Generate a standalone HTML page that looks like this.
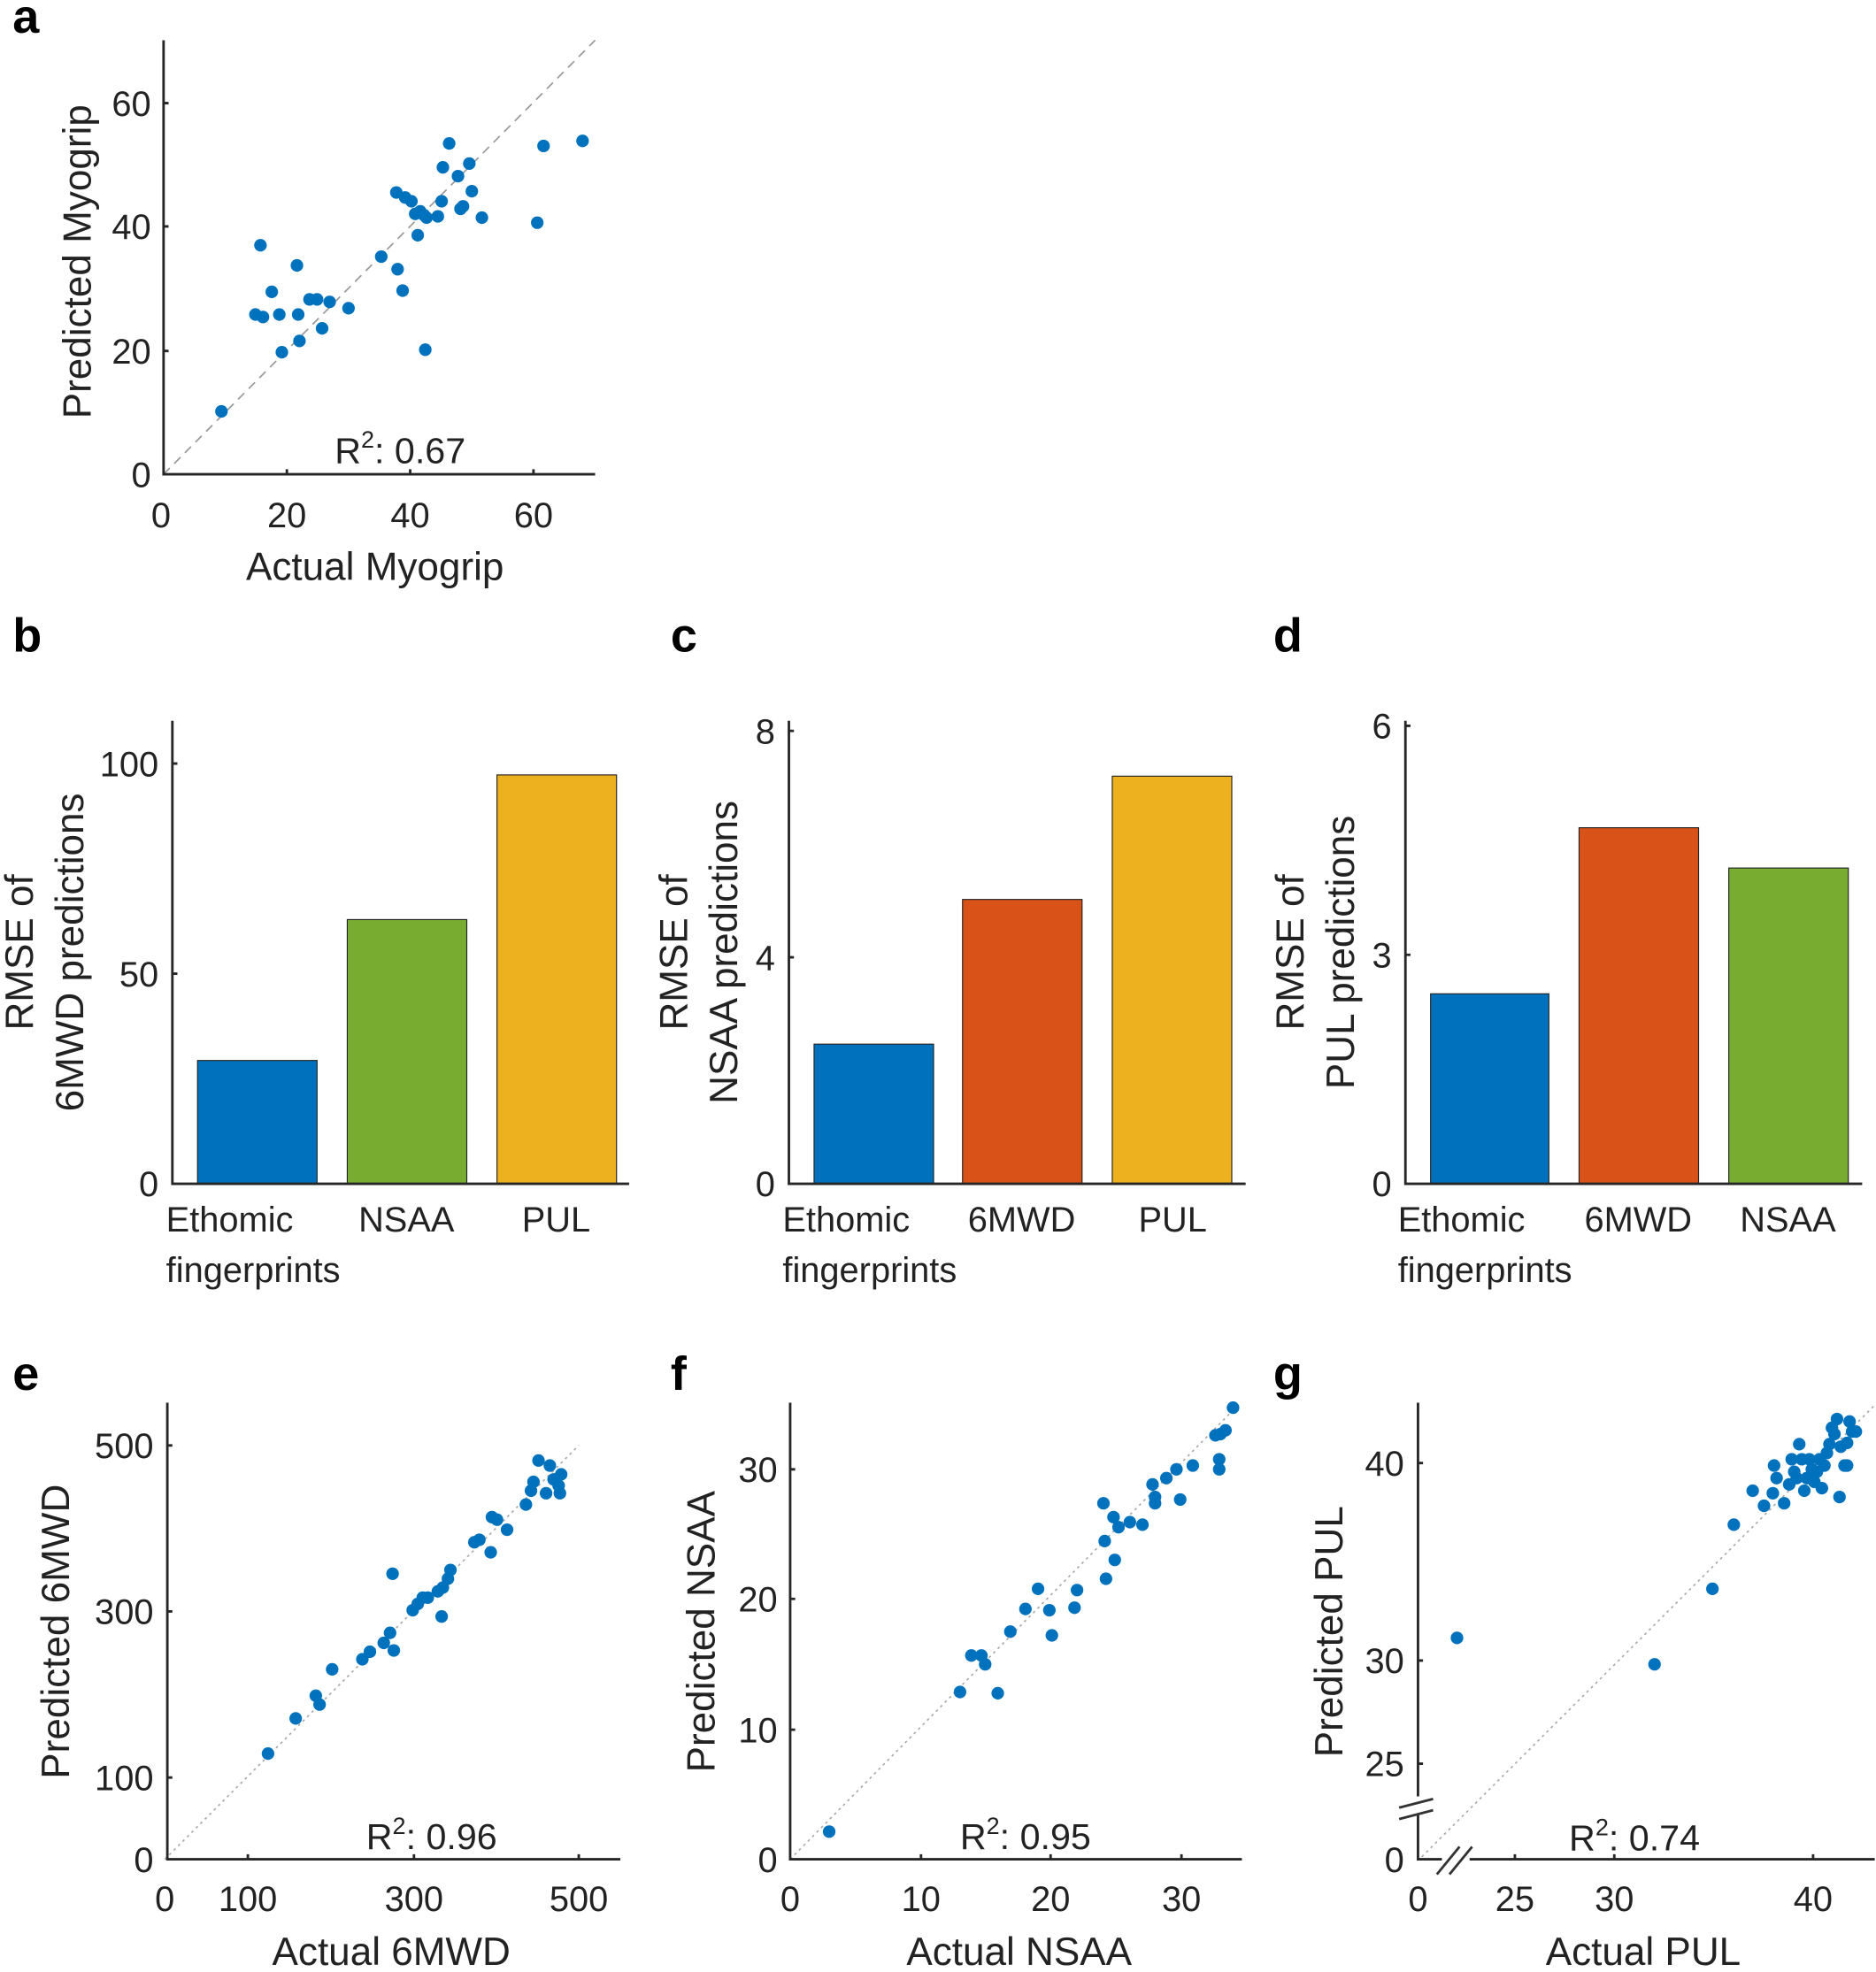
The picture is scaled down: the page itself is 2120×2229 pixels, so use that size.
<!DOCTYPE html>
<html><head><meta charset="utf-8"><style>
html,body{margin:0;padding:0;background:#fff}
svg{display:block}
text{font-family:"Liberation Sans",Arial,sans-serif;fill:#222}
.t{font-size:28px}
.l{font-size:31px}
.r{font-size:29px}
.p{font-size:38px;font-weight:bold;fill:#000}
.ax{stroke:#262626;stroke-width:2;fill:none}
.d{fill:#0072BD}
</style></head><body>
<svg width="2120" height="2229" viewBox="0 0 1491 1567.6" preserveAspectRatio="none">
<text class="p" x="10" y="26">a</text>
<text class="p" x="10" y="518">b</text>
<text class="p" x="533" y="518">c</text>
<text class="p" x="1012" y="518">d</text>
<text class="p" x="10" y="1105">e</text>
<text class="p" x="533" y="1105">f</text>
<text class="p" x="1012" y="1105">g</text>

<!-- Panel a -->
<line x1="130" y1="377" x2="473" y2="32" stroke="#999" stroke-width="1.2" stroke-dasharray="7,5"/>
<path class="ax" d="M130,32 V377 H473"/>
<path class="ax" d="M130,82 h4 M130,180 h4 M130,279 h4 M228,377 v-4 M326,377 v-4 M424,377 v-4"/>
<g class="t" text-anchor="end">
<text x="120" y="92">60</text><text x="120" y="190">40</text><text x="120" y="289">20</text><text x="120" y="387">0</text></g>
<g class="t" text-anchor="middle">
<text x="128" y="419">0</text><text x="228" y="419">20</text><text x="326" y="419">40</text><text x="424" y="419">60</text></g>
<text class="l" x="298" y="461" text-anchor="middle">Actual Myogrip</text>
<text class="l" transform="translate(72,208) rotate(-90)" text-anchor="middle">Predicted Myogrip</text>
<text class="r" x="266" y="368">R<tspan dy="-12" font-size="19">2</tspan><tspan dy="12">: 0.67</tspan></text>
<g class="d">
<circle cx="176" cy="327" r="5"/><circle cx="207" cy="195" r="5"/><circle cx="203" cy="250" r="5"/><circle cx="209" cy="252" r="5"/><circle cx="216" cy="232" r="5"/><circle cx="222" cy="250" r="5"/><circle cx="224" cy="280" r="5"/><circle cx="236" cy="211" r="5"/><circle cx="238" cy="271" r="5"/><circle cx="237" cy="250" r="5"/><circle cx="246" cy="238" r="5"/><circle cx="252" cy="238" r="5"/><circle cx="256" cy="261" r="5"/><circle cx="262" cy="240" r="5"/><circle cx="277" cy="245" r="5"/><circle cx="303" cy="204" r="5"/><circle cx="315" cy="153" r="5"/><circle cx="316" cy="214" r="5"/><circle cx="320" cy="231" r="5"/><circle cx="322" cy="157" r="5"/><circle cx="327" cy="160" r="5"/><circle cx="332" cy="187" r="5"/><circle cx="334" cy="168" r="5"/><circle cx="337" cy="171" r="5"/><circle cx="338" cy="278" r="5"/><circle cx="339" cy="173" r="5"/><circle cx="348" cy="172" r="5"/><circle cx="351" cy="160" r="5"/><circle cx="357" cy="114" r="5"/><circle cx="352" cy="133" r="5"/><circle cx="364" cy="140" r="5"/><circle cx="366" cy="166" r="5"/><circle cx="373" cy="130" r="5"/><circle cx="375" cy="152" r="5"/><circle cx="368" cy="164" r="5"/><circle cx="383" cy="173" r="5"/><circle cx="427" cy="177" r="5"/><circle cx="432" cy="116" r="5"/><circle cx="463" cy="112" r="5"/><circle cx="330" cy="170" r="5"/>
</g>

<!-- Panel b -->
<rect x="157" y="843" width="95" height="98" fill="#0072BD" stroke="#222" stroke-width="0.8"/>
<rect x="276" y="731" width="95" height="210" fill="#77AC30" stroke="#222" stroke-width="0.8"/>
<rect x="395" y="616" width="95" height="325" fill="#EDB120" stroke="#222" stroke-width="0.8"/>
<path class="ax" d="M137,573 V941 H500"/>
<path class="ax" d="M137,607 h4 M137,774 h4"/>
<g class="t" text-anchor="end"><text x="126" y="617">100</text><text x="126" y="784">50</text><text x="126" y="951">0</text></g>
<g class="t"><text x="132" y="979">Ethomic</text><text x="132" y="1019">fingerprints</text>
<text x="323" y="979" text-anchor="middle">NSAA</text><text x="442" y="979" text-anchor="middle">PUL</text></g>
<text class="l" transform="translate(26,757) rotate(-90)" text-anchor="middle">RMSE of</text>
<text class="l" transform="translate(66,757) rotate(-90)" text-anchor="middle">6MWD predictions</text>

<!-- Panel c -->
<rect x="647" y="830" width="95" height="111" fill="#0072BD" stroke="#222" stroke-width="0.8"/>
<rect x="765" y="715" width="95" height="226" fill="#D95319" stroke="#222" stroke-width="0.8"/>
<rect x="884" y="617" width="95" height="324" fill="#EDB120" stroke="#222" stroke-width="0.8"/>
<path class="ax" d="M627,573 V941 H990"/>
<path class="ax" d="M627,581 h4 M627,761 h4"/>
<g class="t" text-anchor="end"><text x="616" y="591">8</text><text x="616" y="771">4</text><text x="616" y="951">0</text></g>
<g class="t"><text x="622" y="979">Ethomic</text><text x="622" y="1019">fingerprints</text>
<text x="812" y="979" text-anchor="middle">6MWD</text><text x="932" y="979" text-anchor="middle">PUL</text></g>
<text class="l" transform="translate(546,757) rotate(-90)" text-anchor="middle">RMSE of</text>
<text class="l" transform="translate(586,757) rotate(-90)" text-anchor="middle">NSAA predictions</text>

<!-- Panel d -->
<rect x="1137" y="790" width="94" height="151" fill="#0072BD" stroke="#222" stroke-width="0.8"/>
<rect x="1255" y="658" width="95" height="283" fill="#D95319" stroke="#222" stroke-width="0.8"/>
<rect x="1374" y="690" width="95" height="251" fill="#77AC30" stroke="#222" stroke-width="0.8"/>
<path class="ax" d="M1117,573 V941 H1480"/>
<path class="ax" d="M1117,577 h4 M1117,759 h4"/>
<g class="t" text-anchor="end"><text x="1106" y="587">6</text><text x="1106" y="769">3</text><text x="1106" y="951">0</text></g>
<g class="t"><text x="1111" y="979">Ethomic</text><text x="1111" y="1019">fingerprints</text>
<text x="1302" y="979" text-anchor="middle">6MWD</text><text x="1421" y="979" text-anchor="middle">NSAA</text></g>
<text class="l" transform="translate(1036,757) rotate(-90)" text-anchor="middle">RMSE of</text>
<text class="l" transform="translate(1076,757) rotate(-90)" text-anchor="middle">PUL predictions</text>

<!-- Panel e -->
<line x1="131" y1="1478" x2="460" y2="1149" stroke="#aaa" stroke-width="1.2" stroke-dasharray="2,3"/>
<path class="ax" d="M133,1115 V1478 H493"/>
<path class="ax" d="M133,1149 h4 M133,1281 h4 M133,1413 h4 M197,1478 v-4 M329,1478 v-4 M460,1478 v-4"/>
<g class="t" text-anchor="end"><text x="122" y="1159">500</text><text x="122" y="1291">300</text><text x="122" y="1423">100</text><text x="122" y="1488">0</text></g>
<g class="t" text-anchor="middle"><text x="131" y="1519">0</text><text x="197" y="1519">100</text><text x="329" y="1519">300</text><text x="460" y="1519">500</text></g>
<text class="l" x="311" y="1562" text-anchor="middle">Actual 6MWD</text>
<text class="l" transform="translate(55,1297) rotate(-90)" text-anchor="middle">Predicted 6MWD</text>
<text class="r" x="291" y="1470">R<tspan dy="-12" font-size="19">2</tspan><tspan dy="12">: 0.96</tspan></text>
<g class="d">
<circle cx="213" cy="1394" r="5"/><circle cx="235" cy="1366" r="5"/><circle cx="251" cy="1348" r="5"/><circle cx="254" cy="1355" r="5"/><circle cx="264" cy="1327" r="5"/><circle cx="288" cy="1319" r="5"/><circle cx="294" cy="1313" r="5"/><circle cx="305" cy="1306" r="5"/><circle cx="310" cy="1298" r="5"/><circle cx="313" cy="1312" r="5"/><circle cx="312" cy="1251" r="5"/><circle cx="328" cy="1280" r="5"/><circle cx="332" cy="1275" r="5"/><circle cx="336" cy="1270" r="5"/><circle cx="340" cy="1270" r="5"/><circle cx="348" cy="1265" r="5"/><circle cx="351" cy="1285" r="5"/><circle cx="352" cy="1262" r="5"/><circle cx="356" cy="1255" r="5"/><circle cx="358" cy="1248" r="5"/><circle cx="377" cy="1226" r="5"/><circle cx="381" cy="1224" r="5"/><circle cx="390" cy="1234" r="5"/><circle cx="391" cy="1206" r="5"/><circle cx="395" cy="1208" r="5"/><circle cx="403" cy="1216" r="5"/><circle cx="418" cy="1196" r="5"/><circle cx="422" cy="1185" r="5"/><circle cx="424" cy="1178" r="5"/><circle cx="428" cy="1161" r="5"/><circle cx="437" cy="1165" r="5"/><circle cx="434" cy="1187" r="5"/><circle cx="440" cy="1176" r="5"/><circle cx="444" cy="1181" r="5"/><circle cx="446" cy="1172" r="5"/><circle cx="445" cy="1187" r="5"/>
</g>

<!-- Panel f -->
<line x1="628" y1="1478" x2="985" y2="1116" stroke="#aaa" stroke-width="1.2" stroke-dasharray="2,3"/>
<path class="ax" d="M628,1115 V1478 H987"/>
<path class="ax" d="M628,1168 h4 M628,1271 h4 M628,1375 h4 M732,1478 v-4 M835,1478 v-4 M939,1478 v-4"/>
<g class="t" text-anchor="end"><text x="618" y="1178">30</text><text x="618" y="1281">20</text><text x="618" y="1385">10</text><text x="618" y="1488">0</text></g>
<g class="t" text-anchor="middle"><text x="628" y="1519">0</text><text x="732" y="1519">10</text><text x="835" y="1519">20</text><text x="939" y="1519">30</text></g>
<text class="l" x="810" y="1562" text-anchor="middle">Actual NSAA</text>
<text class="l" transform="translate(568,1297) rotate(-90)" text-anchor="middle">Predicted NSAA</text>
<text class="r" x="763" y="1470">R<tspan dy="-12" font-size="19">2</tspan><tspan dy="12">: 0.95</tspan></text>
<g class="d">
<circle cx="659" cy="1456" r="5"/><circle cx="763" cy="1345" r="5"/><circle cx="793" cy="1346" r="5"/><circle cx="772" cy="1316" r="5"/><circle cx="780" cy="1316" r="5"/><circle cx="783" cy="1323" r="5"/><circle cx="803" cy="1297" r="5"/><circle cx="815" cy="1279" r="5"/><circle cx="825" cy="1263" r="5"/><circle cx="834" cy="1280" r="5"/><circle cx="836" cy="1300" r="5"/><circle cx="854" cy="1278" r="5"/><circle cx="856" cy="1264" r="5"/><circle cx="877" cy="1195" r="5"/><circle cx="878" cy="1225" r="5"/><circle cx="879" cy="1255" r="5"/><circle cx="885" cy="1206" r="5"/><circle cx="886" cy="1240" r="5"/><circle cx="889" cy="1214" r="5"/><circle cx="898" cy="1210" r="5"/><circle cx="908" cy="1212" r="5"/><circle cx="916" cy="1180" r="5"/><circle cx="918" cy="1190" r="5"/><circle cx="918" cy="1195" r="5"/><circle cx="927" cy="1175" r="5"/><circle cx="935" cy="1168" r="5"/><circle cx="938" cy="1192" r="5"/><circle cx="948" cy="1165" r="5"/><circle cx="966" cy="1141" r="5"/><circle cx="970" cy="1140" r="5"/><circle cx="969" cy="1160" r="5"/><circle cx="969" cy="1168" r="5"/><circle cx="974" cy="1137" r="5"/><circle cx="980" cy="1119" r="5"/>
</g>

<!-- Panel g -->
<line x1="1130" y1="1476" x2="1490" y2="1117" stroke="#aaa" stroke-width="1.2" stroke-dasharray="2,3"/>
<path class="ax" d="M1127,1115 V1478 H1490"/>
<path class="ax" d="M1127,1163 h4 M1127,1320 h4 M1127,1402 h4 M1204,1478 v-4 M1283,1478 v-4 M1441,1478 v-4"/>
<rect x="1110" y="1428" width="30" height="14" fill="#fff"/>
<path d="M1112,1437 L1139,1430 M1112,1446 L1139,1439" stroke="#333" stroke-width="2"/>
<rect x="1146" y="1470" width="22" height="20" fill="#fff"/>
<path d="M1142,1490 L1160,1468 M1152,1490 L1170,1468" stroke="#333" stroke-width="2"/>
<g class="t" text-anchor="end"><text x="1116" y="1173">40</text><text x="1116" y="1330">30</text><text x="1116" y="1412">25</text><text x="1116" y="1488">0</text></g>
<g class="t" text-anchor="middle"><text x="1127" y="1519">0</text><text x="1204" y="1519">25</text><text x="1283" y="1519">30</text><text x="1441" y="1519">40</text></g>
<text class="l" x="1306" y="1562" text-anchor="middle">Actual PUL</text>
<text class="l" transform="translate(1067,1297) rotate(-90)" text-anchor="middle">Predicted PUL</text>
<text class="r" x="1247" y="1471">R<tspan dy="-12" font-size="19">2</tspan><tspan dy="12">: 0.74</tspan></text>
<g class="d">
<circle cx="1158" cy="1302" r="5"/><circle cx="1315" cy="1323" r="5"/><circle cx="1361" cy="1263" r="5"/><circle cx="1378" cy="1212" r="5"/><circle cx="1393" cy="1185" r="5"/><circle cx="1409" cy="1187" r="5"/><circle cx="1412" cy="1175" r="5"/><circle cx="1418" cy="1195" r="5"/><circle cx="1422" cy="1180" r="5"/><circle cx="1426" cy="1170" r="5"/><circle cx="1430" cy="1148" r="5"/><circle cx="1432" cy="1160" r="5"/><circle cx="1434" cy="1185" r="5"/><circle cx="1436" cy="1175" r="5"/><circle cx="1438" cy="1160" r="5"/><circle cx="1440" cy="1168" r="5"/><circle cx="1442" cy="1178" r="5"/><circle cx="1444" cy="1170" r="5"/><circle cx="1446" cy="1160" r="5"/><circle cx="1448" cy="1183" r="5"/><circle cx="1450" cy="1165" r="5"/><circle cx="1452" cy="1155" r="5"/><circle cx="1454" cy="1148" r="5"/><circle cx="1456" cy="1135" r="5"/><circle cx="1458" cy="1140" r="5"/><circle cx="1460" cy="1128" r="5"/><circle cx="1462" cy="1190" r="5"/><circle cx="1463" cy="1150" r="5"/><circle cx="1466" cy="1165" r="5"/><circle cx="1468" cy="1147" r="5"/><circle cx="1470" cy="1130" r="5"/><circle cx="1472" cy="1138" r="5"/><circle cx="1475" cy="1138" r="5"/><circle cx="1402" cy="1197" r="5"/><circle cx="1410" cy="1165" r="5"/><circle cx="1424" cy="1160" r="5"/><circle cx="1428" cy="1175" r="5"/><circle cx="1468" cy="1165" r="5"/>
</g>
</svg>
</body></html>
